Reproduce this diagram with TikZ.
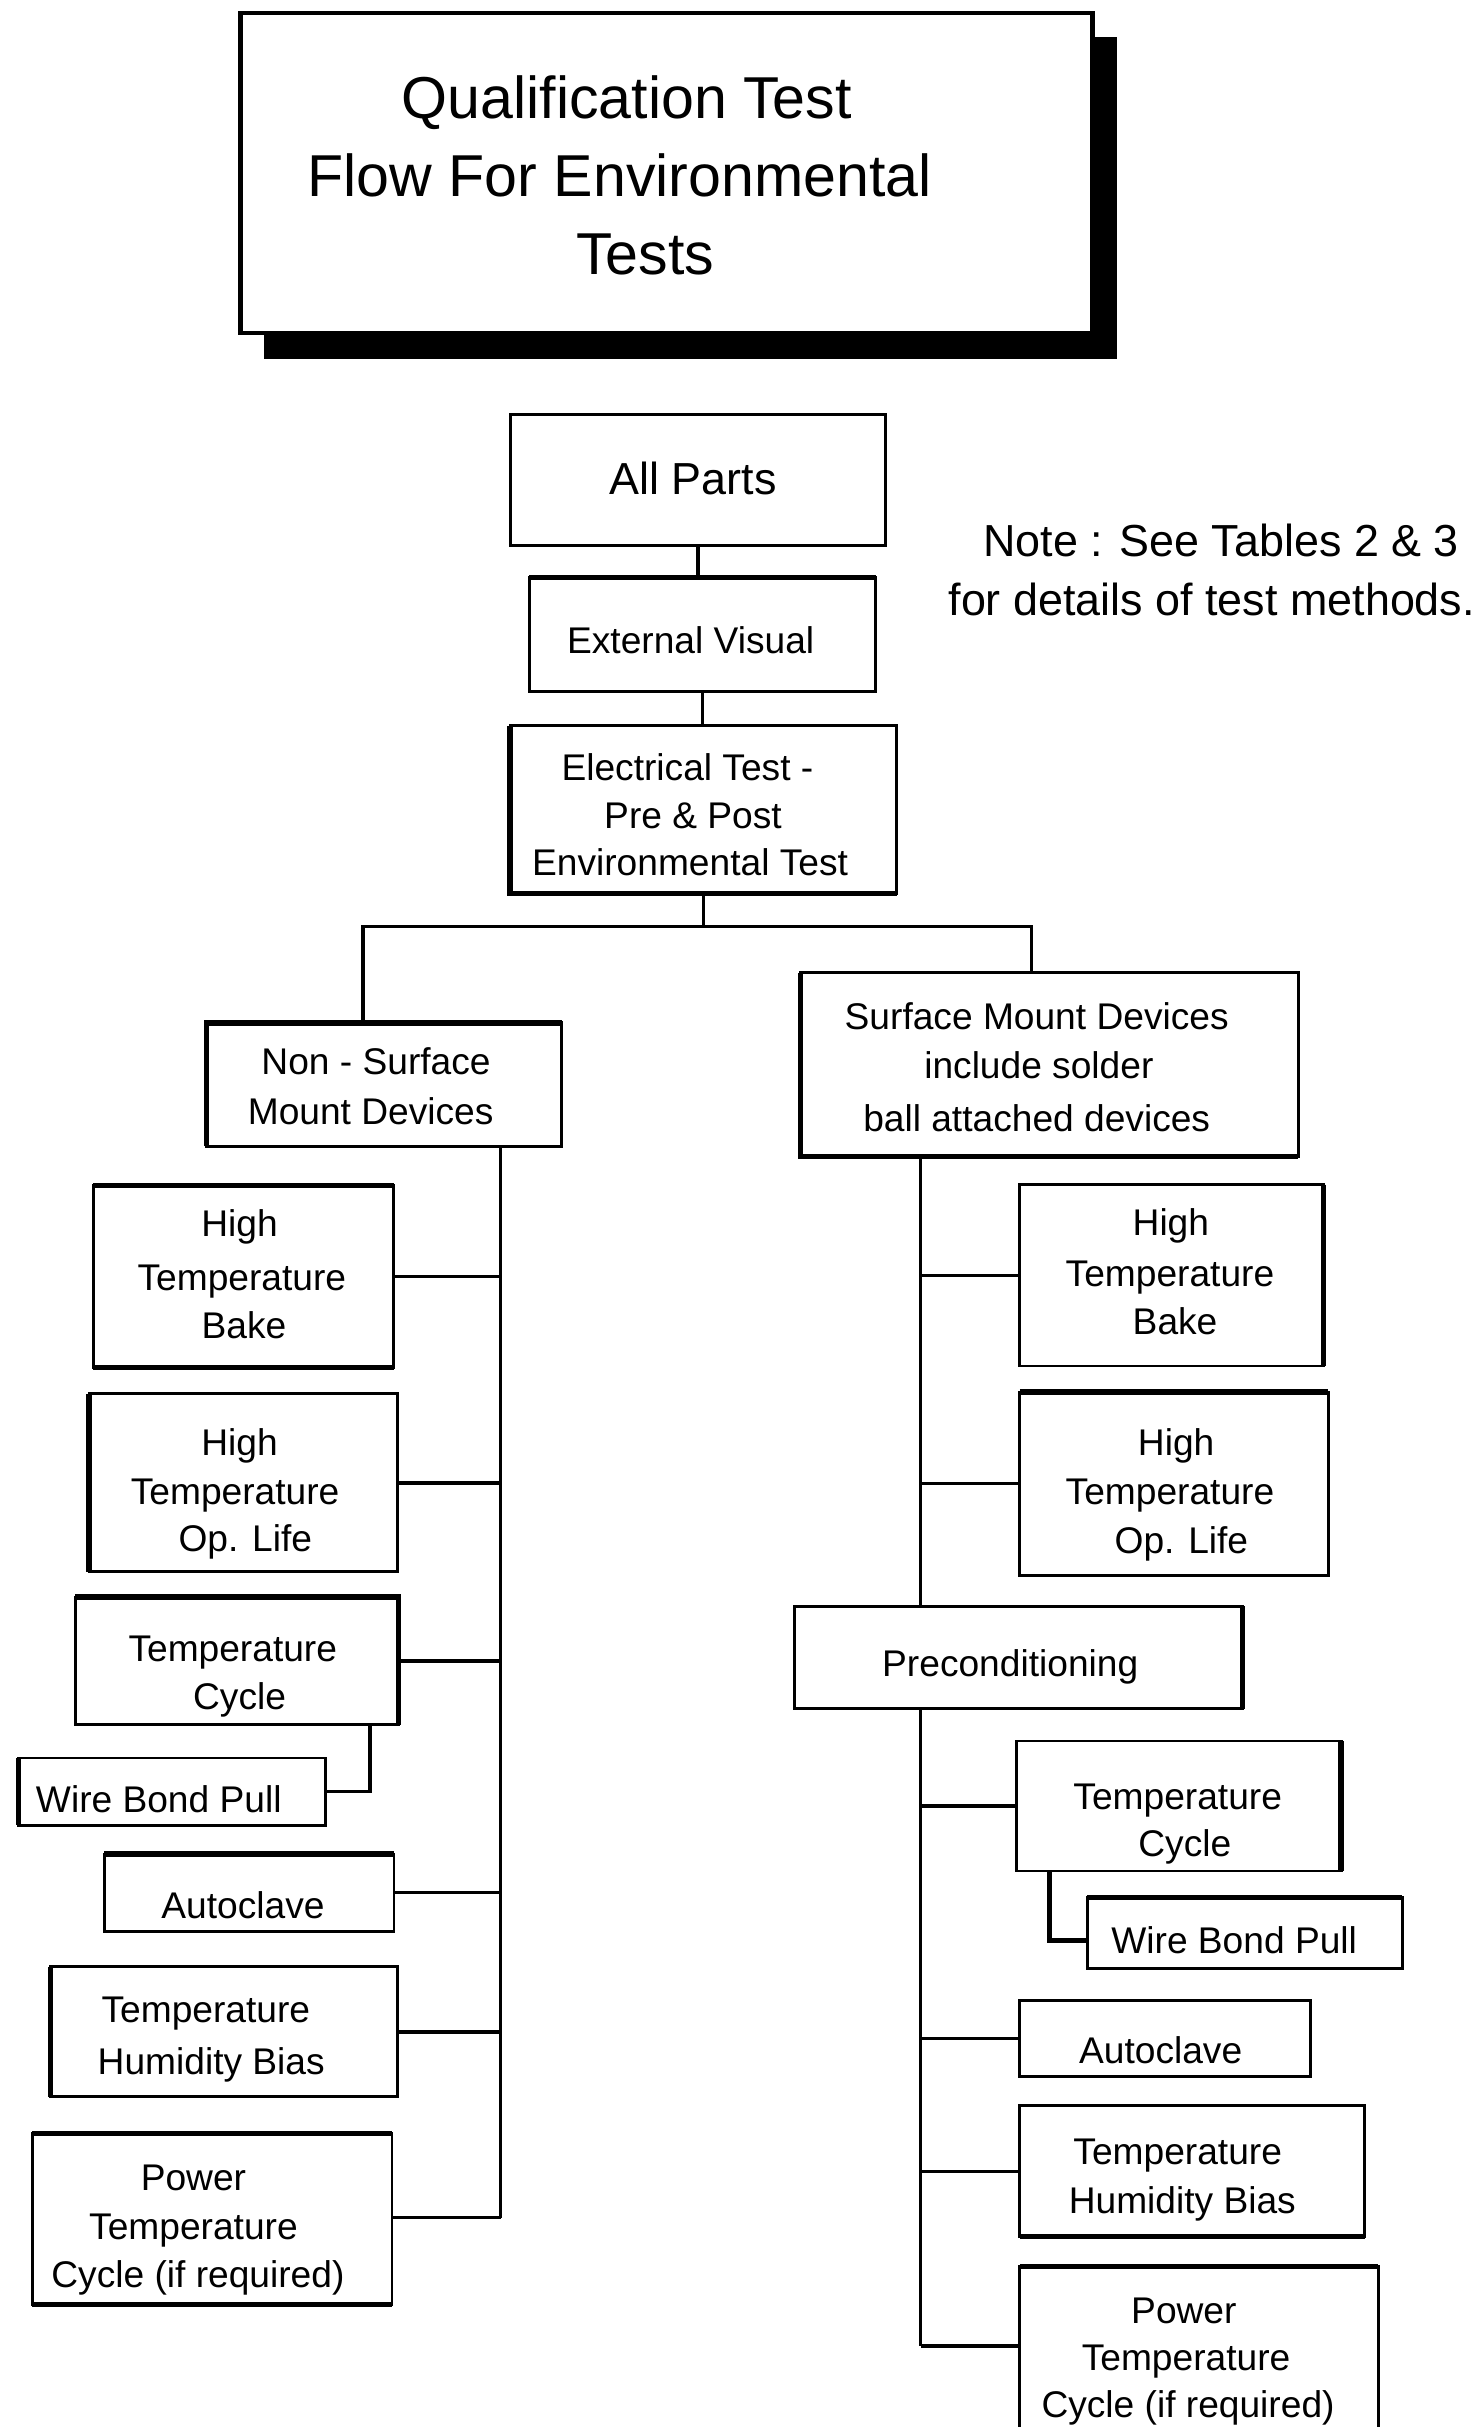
\documentclass[tikz,border=0pt]{standalone}
\usepackage{fontspec}
\setmainfont{Liberation Sans}
\usetikzlibrary{fit}
% a framed box given by two opposite corners
\newcommand\boxnode[5]{\node[box, fit={(#2,#3) (#4,#5)}] (#1) {};}
\begin{document}
\begin{tikzpicture}[x=1pt,y=-1pt,
  box/.style={draw, line width=1.9pt, inner sep=0pt, outer sep=0pt, fill=white},
  conn/.style={line width=2.2pt},
  heavy/.style={line width=3.4pt},
  lbl/.style={inner sep=0pt, anchor=center, font=\fontsize{24}{29}\selectfont,
              text height=17.2pt, text depth=0pt},
  big/.style={lbl, font=\fontsize{29}{35}\selectfont, text height=20.8pt},
  ttl/.style={lbl, font=\fontsize{38.2}{46}\selectfont, text height=27.3pt}]
\useasboundingbox (0,0) rectangle (957,1568.3);
\clip (0,0) rectangle (957,1568.3);

% ---- heading with drop shadow
\node[fill=black, inner sep=0pt, outer sep=0pt, fit={(170.6,24) (721.5,232)}] (shadow) {};
\node[box, line width=2.8pt, fit={(155.5,8.3) (706,215)}] (title) {};
\node[ttl] (title1) at (405,63) {Qualification Test};
\node[ttl] (title2) at (400.5,113.5) {Flow For Environmental};
\node[ttl] (title3) at (417,164) {Tests};

% ---- common chain
\boxnode{allparts}{330}{267.8}{572}{352.2}
\boxnode{extvis}{341.9}{373.3}{565.8}{446.9}
\boxnode{elec}{329.6}{469}{579.4}{577.5}
\node[big] (allparts1) at (447.8,309) {All Parts};
\node[big] (note1) at (789,349) {Note : See Tables 2 \& 3};
\node[big] (note2) at (783,387.5) {for details of test methods.};
\node[lbl] (extvis1) at (446.3,414) {External Visual};
\node[lbl] (elec1) at (444.2,495.6) {Electrical Test -};
\node[lbl] (elec2) at (447.8,526.8) {Pre \& Post};
\node[lbl] (elec3) at (445.9,557) {Environmental Test};

% ---- the two device families
\boxnode{nsm}{133.4}{661}{363}{740.6}
\boxnode{smd}{517.4}{628.5}{838.8}{747.5}
\node[lbl] (nsm1) at (243,686) {Non - Surface};
\node[lbl] (nsm2) at (239.5,718) {Mount Devices};
\node[lbl] (smd1) at (669.9,656.5) {Surface Mount Devices};
\node[lbl] (smd2) at (671.3,688) {include solder};
\node[lbl] (smd3) at (669.9,722.5) {ball attached devices};

% ---- left column: non surface mount
\boxnode{lhtb}{60.3}{766}{254.4}{883.8}
\boxnode{lhtol}{57.5}{900.7}{257}{1015.7}
\boxnode{ltc}{48.7}{1032}{257.5}{1114.5}
\boxnode{lwbp}{12}{1136}{210.6}{1179.4}
\boxnode{lac}{67.3}{1198}{254.6}{1248}
\boxnode{lthb}{32.5}{1271}{257}{1355}
\boxnode{lptc}{20.9}{1378.4}{253.3}{1489}
\node[lbl] (lhtb1) at (154.8,790.4) {High};
\node[lbl] (lhtb2) at (156.3,825) {Temperature};
\node[lbl] (lhtb3) at (157.7,856) {Bake};
\node[lbl] (lhtol1) at (154.8,932) {High};
\node[lbl] (lhtol2) at (151.9,963.4) {Temperature};
\node[lbl] (lhtol3) at (158.5,994.2) {Op. Life};
\node[lbl] (ltc1) at (150.4,1065) {Temperature};
\node[lbl] (ltc2) at (154.8,1096) {Cycle};
\node[lbl] (lwbp1) at (102.6,1162.8) {Wire Bond Pull};
\node[lbl] (lac1) at (157,1231) {Autoclave};
\node[lbl] (lthb1) at (133,1298.6) {Temperature};
\node[lbl] (lthb2) at (136.5,1331.8) {Humidity Bias};
\node[lbl] (lptc1) at (125,1407) {Power};
\node[lbl] (lptc2) at (125,1438.5) {Temperature};
\node[lbl] (lptc3) at (127.9,1469.5) {Cycle (if required)};

% ---- right column: surface mount
\boxnode{rhtb}{659}{765.5}{855.4}{882.7}
\boxnode{rhtol}{659}{899.5}{858.4}{1017.8}
\boxnode{prec}{513.5}{1037.8}{803}{1104.3}
\boxnode{rtc}{657}{1125}{866.6}{1209}
\boxnode{rwbp}{702.6}{1226}{906}{1272}
\boxnode{rac}{659}{1292.5}{847}{1342}
\boxnode{rthb}{659}{1360.7}{882}{1445.4}
\boxnode{rptc}{659}{1464.5}{890.5}{1580}
\node[lbl] (rhtb1) at (756.6,790) {High};
\node[lbl] (rhtb2) at (756,823) {Temperature};
\node[lbl] (rhtb3) at (759.3,853.7) {Bake};
\node[lbl] (rhtol1) at (760,931.7) {High};
\node[lbl] (rhtol2) at (756,963.4) {Temperature};
\node[lbl] (rhtol3) at (763.4,995.4) {Op. Life};
\node[lbl] (prec1) at (652.8,1074.5) {Preconditioning};
\node[lbl] (rtc1) at (761,1160.6) {Temperature};
\node[lbl] (rtc2) at (765.6,1191) {Cycle};
\node[lbl] (rwbp1) at (797.5,1254) {Wire Bond Pull};
\node[lbl] (rac1) at (750,1324.8) {Autoclave};
\node[lbl] (rthb1) at (761,1390) {Temperature};
\node[lbl] (rthb2) at (764,1421.6) {Humidity Bias};
\node[lbl] (rptc1) at (765,1492.7) {Power};
\node[lbl] (rptc2) at (766.4,1523) {Temperature};
\node[lbl] (rptc3) at (767.7,1553.5) {Cycle (if required)};

% ---- heavier edges of some frames
\draw[heavy] (extvis.north west) -- (extvis.north east);
\draw[heavy] (elec.north west) -- (elec.south west) -- (elec.south east);
\draw[heavy] (nsm.south west) -- (nsm.north west) -- (nsm.north east);
\draw[heavy] (lhtb.north west) -- (lhtb.north east);
\draw[heavy] (lhtb.south west) -- (lhtb.south east);
\draw[heavy] (lhtol.north west) -- (lhtol.south west);
\draw[heavy] (ltc.north west) -- (ltc.north east) -- (ltc.south east);
\draw[heavy] (lwbp.north west) -- (lwbp.south west);
\draw[heavy] (lac.north west) -- (lac.north east);
\draw[heavy] (lthb.north west) -- (lthb.south west);
\draw[heavy] (lptc.north west) -- (lptc.north east);
\draw[heavy] (lptc.south west) -- (lptc.south east);
\draw[heavy] (smd.north west) -- (smd.south west) -- (smd.south east);
\draw[heavy] (rhtb.north east) -- (rhtb.south east);
\draw[heavy] (rhtol.north west) -- (rhtol.north east);
\draw[heavy] (prec.north east) -- (prec.south east);
\draw[heavy] (rtc.north east) -- (rtc.south east);
\draw[heavy] (rwbp.north west) -- (rwbp.north east);
\draw[heavy] (rthb.south west) -- (rthb.south east);
\draw[heavy] (rptc.north west) -- (rptc.north east);

% ---- connector junctions
\coordinate (busl) at (234.5,598.5);
\coordinate (busr) at (666.5,598.5);
\coordinate (lsp) at (323.6,740.6);
\coordinate (lspb) at (323.6,1433);
\coordinate (rsp) at (595,747.5);
\coordinate (rspb) at (595,1516);
\coordinate (lwj) at (239,1159);
\coordinate (rwj) at (678,1254);

% ---- connectors
\draw[conn] (allparts.south) -- (allparts.south |- extvis.north);
\draw[conn] (extvis.south) -- (extvis.south |- elec.north);
\draw[conn] (elec.south) -- (elec.south |- busl);
\draw[conn] (busl |- nsm.north) -- (busl) -- (busr) -- (busr |- smd.north);

\draw[conn] (nsm.south -| lsp) -- (lspb);
\draw[conn] (lhtb.east) -- (lhtb.east -| lsp);
\draw[conn] (lhtol.east) -- (lhtol.east -| lsp);
\draw[conn] (ltc.east) -- (ltc.east -| lsp);
\draw[conn] (ltc.south -| lwj) |- (lwbp.east);
\draw[conn] (lac.east) -- (lac.east -| lsp);
\draw[conn] (lthb.east) -- (lthb.east -| lsp);
\draw[conn] (lptc.east |- lspb) -- (lspb);

\draw[conn] (smd.south -| rsp) -- (prec.north -| rsp);
\draw[conn] (prec.south -| rsp) -- (rspb);
\draw[conn] (rhtb.west) -- (rhtb.west -| rsp);
\draw[conn] (rhtol.west) -- (rhtol.west -| rsp);
\draw[conn] (rtc.west) -- (rtc.west -| rsp);
\draw[conn, line width=3pt] (rtc.south -| rwj) -- (rwj) -- (rwbp.west |- rwj);
\draw[conn] (rac.west) -- (rac.west -| rsp);
\draw[conn] (rthb.west) -- (rthb.west -| rsp);
\draw[conn] (rptc.west |- rspb) -- (rspb);
\end{tikzpicture}
\end{document}
